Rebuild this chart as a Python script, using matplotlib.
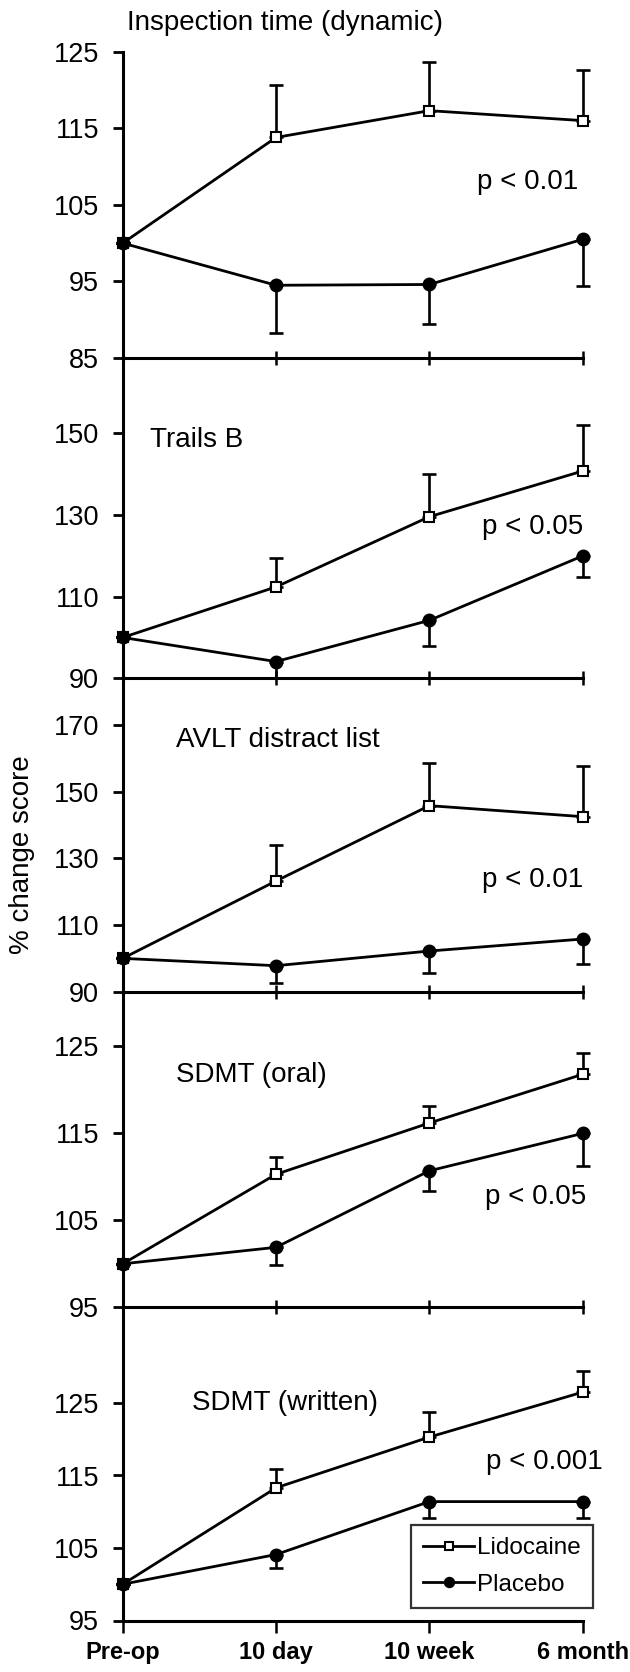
import matplotlib
matplotlib.use("Agg")
import matplotlib.pyplot as plt
import numpy as np

plt.rcParams['font.family'] = ['Liberation Sans', 'DejaVu Sans']

timepoints = ["Pre-op", "10 day", "10 week", "6 month"]

titles = ["Inspection time (dynamic)", "Trails B", "AVLT distract list",
          "SDMT (oral)", "SDMT (written)"]
pvals = ["p < 0.01", "p < 0.05", "p < 0.01", "p < 0.05", "p < 0.001"]

lido_it = [100, 113.8, 117.3, 116.0]
lido_it_se = [0, 6.8, 6.4, 6.6]
plac_it = [100, 94.5, 94.6, 100.5]
plac_it_se = [0, 6.3, 5.1, 6.1]

lido_tb = [100, 112.4, 129.6, 140.8]
lido_tb_se = [0, 7.2, 10.5, 11.4]
plac_tb = [100, 94.1, 104.2, 120.0]
plac_tb_se = [0, 4.1, 6.2, 5.2]

lido_avlt = [100, 123.2, 145.8, 142.5]
lido_avlt_se = [0, 10.8, 12.8, 15.1]
plac_avlt = [100, 97.8, 102.2, 105.8]
plac_avlt_se = [0, 5.3, 6.5, 7.5]

lido_oral = [100, 110.3, 116.2, 121.8]
lido_oral_se = [0, 2.0, 2.0, 2.5]
plac_oral = [100, 101.9, 110.7, 115.0]
plac_oral_se = [0, 2.0, 2.3, 3.7]

lido_writ = [100, 113.3, 120.3, 126.5]
lido_writ_se = [0, 2.6, 3.5, 2.9]
plac_writ = [100, 104.1, 111.4, 111.4]
plac_writ_se = [0, 1.8, 2.2, 2.2]

lido = [lido_it, lido_tb, lido_avlt, lido_oral, lido_writ]
lido_se = [lido_it_se, lido_tb_se, lido_avlt_se, lido_oral_se, lido_writ_se]
plac = [plac_it, plac_tb, plac_avlt, plac_oral, plac_writ]
plac_se = [plac_it_se, plac_tb_se, plac_avlt_se, plac_oral_se, plac_writ_se]

ylims = [(85, 125), (90, 168.5), (90, 184), (95, 131.3), (95, 138.2)]
yticks = [[85, 95, 105, 115, 125], [90, 110, 130, 150], [90, 110, 130, 150, 170],
          [95, 105, 115, 125], [95, 105, 115, 125]]
title_pos = [(0.026, 128.7), (0.18, 148.4), (0.346, 165.5), (0.346, 121.7), (0.45, 125.0)]
p_pos = [(2.31, 108.0), (2.34, 127.1), (2.34, 123.5), (2.36, 107.7), (2.37, 116.9)]

# panel edges in pixels (top, bottom)
edges = [(51.7, 358), (358, 678.3), (678.3, 991.7), (991.7, 1307.3), (1307.3, 1620.5)]

W, H = 630, 1672
fig = plt.figure(figsize=(W / 100, H / 100), dpi=100)
x = np.arange(len(timepoints))
x0, x1 = 122.7, 582.7

axes = []
for i in range(5):
    top, bot = edges[i]
    ax = fig.add_axes([x0 / W, 1 - bot / H, (x1 - x0) / W, (bot - top) / H])
    ax.set_facecolor('none')
    axes.append(ax)

    ax.plot(x, lido[i], '-', color='black', lw=2.0, marker='s', ms=7.5,
            mfc='white', mec='black', mew=1.5, clip_on=False, zorder=3, label='Lidocaine')
    ax.errorbar(x, lido[i], yerr=[np.zeros(4), lido_se[i]], fmt='none', ecolor='black',
                elinewidth=1.9, capsize=5, capthick=1.9, clip_on=False, zorder=2)
    ax.plot(x, plac[i], '-', color='black', lw=2.0, marker='o', ms=9,
            mfc='black', mec='black', clip_on=False, zorder=4, label='Placebo')
    ax.errorbar(x, plac[i], yerr=[plac_se[i], np.zeros(4)], fmt='none', ecolor='black',
                elinewidth=1.9, capsize=5, capthick=1.9, clip_on=False, zorder=2)

    ax.set_xlim(0, 3)
    ax.set_ylim(*ylims[i])
    ax.set_yticks(yticks[i])
    ax.set_xticks(x)
    for s in ['top', 'right']:
        ax.spines[s].set_visible(False)
    for s in ['left', 'bottom']:
        ax.spines[s].set_linewidth(2.2)
    ax.tick_params(axis='y', direction='out', length=7, width=2.0, pad=10, labelsize=19.5)
    if i < 4:
        ax.tick_params(axis='x', direction='inout', length=10, width=1.8, labelbottom=False)
    else:
        ax.tick_params(axis='x', direction='out', length=8.5, width=1.8, pad=6, labelsize=17)
        ax.set_xticklabels(timepoints, fontweight='bold')

    ax.text(title_pos[i][0], title_pos[i][1], titles[i], fontsize=20, va='center', ha='left')
    ax.text(p_pos[i][0], p_pos[i][1], pvals[i], fontsize=20, va='center', ha='left')

leg = axes[4].legend(loc='lower left', bbox_to_anchor=(0.627, 0.04), fontsize=17.5,
                     frameon=True, fancybox=False, edgecolor='black', handlelength=2.1,
                     handletextpad=0.1, labelspacing=0.6, borderpad=0.5, borderaxespad=0,
                     markerscale=0.8)
leg.get_frame().set_linewidth(1.6)

fig.text(22 / W, 1 - 855 / H, "% change score", rotation=90, fontsize=20,
         ha='center', va='center')

fig.savefig("out.png", dpi=100, facecolor='white')
